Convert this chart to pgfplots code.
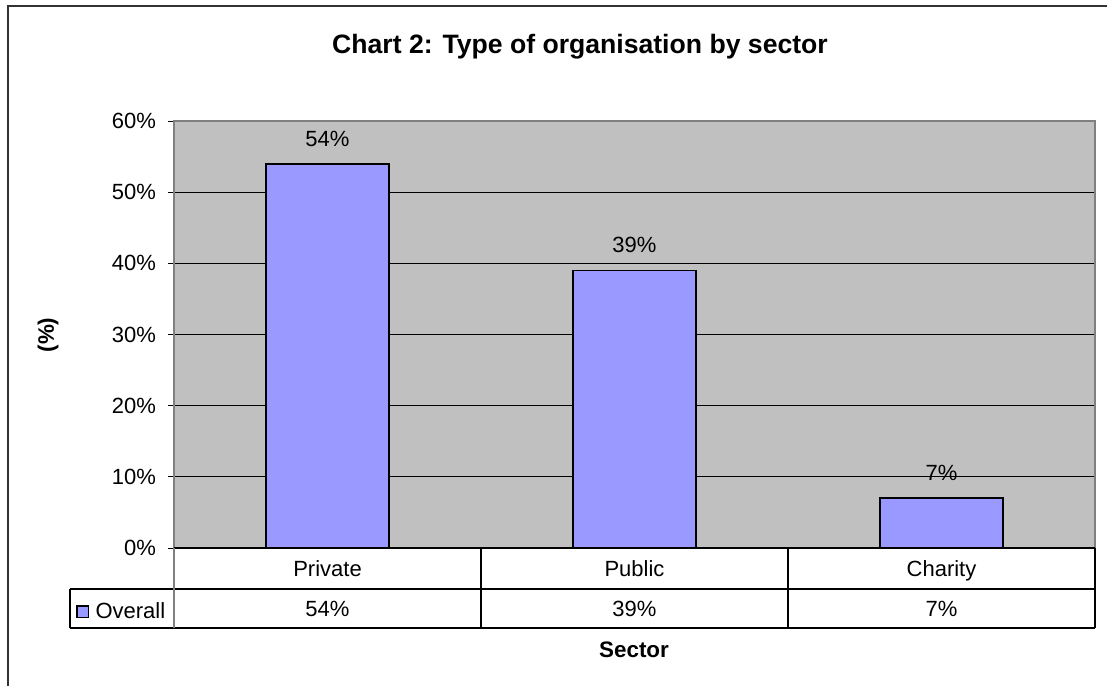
\documentclass[border=0pt]{standalone}
\usepackage{fontspec}
\setmainfont{Liberation Sans}
\usepackage{pgfplots}
\pgfplotsset{compat=1.18}
\definecolor{plotgray}{HTML}{C0C0C0}
\definecolor{barblue}{HTML}{9999FF}
\definecolor{framegray}{HTML}{808080}

\begin{document}
\begin{tikzpicture}[x=0.5pt,y=-0.5pt,font=\fontsize{11}{13}\selectfont]
\useasboundingbox (0,0) rectangle (1107,686);
% outer chart frame (right and bottom edges are cut off)
\draw[line width=1pt, black!80] (8,686) -- (8,6) -- (1107,6);
\node[font=\fontsize{13.3}{16}\selectfont\bfseries] at (580,47) {Chart 2: Type of organisation by sector};
\node[font=\fontsize{11.2}{13}\selectfont\bfseries, rotate=90] at (48,335) {(\%)};
\node[font=\fontsize{11.2}{13}\selectfont\bfseries] at (634,650) {Sector};

\begin{axis}[
  at={(87pt,-274pt)}, anchor=south west,
  scale only axis,
  width=460.5pt, height=213.5pt,
  xmin=-0.5, xmax=2.5,
  ymin=0, ymax=60,
  /pgf/number format/assume math mode=true,
  axis background/.style={fill=plotgray},
  axis line style={framegray, line width=0.8pt},
  ybar, bar width=0.4,
  ytick={0,10,...,60},
  yticklabel={\pgfmathprintnumber{\tick}\%},
  ytick pos=left,
  tick align=outside,
  major tick length=3pt,
  ytick style={black, line width=0.5pt},
  ymajorgrids,
  grid style={black, line width=0.5pt},
  xtick={0,1,2},
  xticklabels={Private,Public,Charity},
  xtick style={draw=none},
  xticklabel style={anchor=center, text height=9.5pt, text depth=1.7pt, yshift=-7.25pt},
  extra x ticks={0,1,2},
  extra x tick labels={54\%,39\%,7\%},
  extra x tick style={xticklabel style={yshift=-20pt}, grid=none},
  tick label style={font=\fontsize{11}{13}\selectfont},
  yticklabel style={xshift=-2.5pt},
  nodes near coords={\pgfmathprintnumber{\pgfplotspointmeta}\%},
  every node near coord/.append style={font=\fontsize{11}{13}\selectfont, black, yshift=5pt},
  legend style={at={(axis description cs:-0.106,-0.149)}, anchor=west,
    draw=none, fill=none, font=\fontsize{11}{13}\selectfont,
    inner sep=0pt, outer sep=0pt},
  legend image code/.code={\draw[#1] (0pt,-2.9pt) rectangle (5.6pt,2.9pt); \path (6.8pt,0pt);},
  clip=false,
]
\addplot[fill=barblue, draw=black, line width=0.8pt]
  coordinates {(0,54) (1,39) (2,7)};
\legend{Overall}
\end{axis}

% data table under the plot
\draw[black, line width=0.6pt] (174,548) -- (1095,548);
\draw[black, line width=0.6pt] (70,589) -- (1095,589);
\draw[black, line width=0.6pt] (70,628) -- (1095,628);
\draw[black, line width=0.6pt] (70,589) -- (70,628);
\draw[black, line width=0.6pt] (481,548) -- (481,628);
\draw[black, line width=0.6pt] (788,548) -- (788,628);
\draw[black, line width=0.6pt] (1095,548) -- (1095,628);
\draw[framegray, line width=0.8pt] (174,548) -- (174,628);
\end{tikzpicture}
\end{document}
